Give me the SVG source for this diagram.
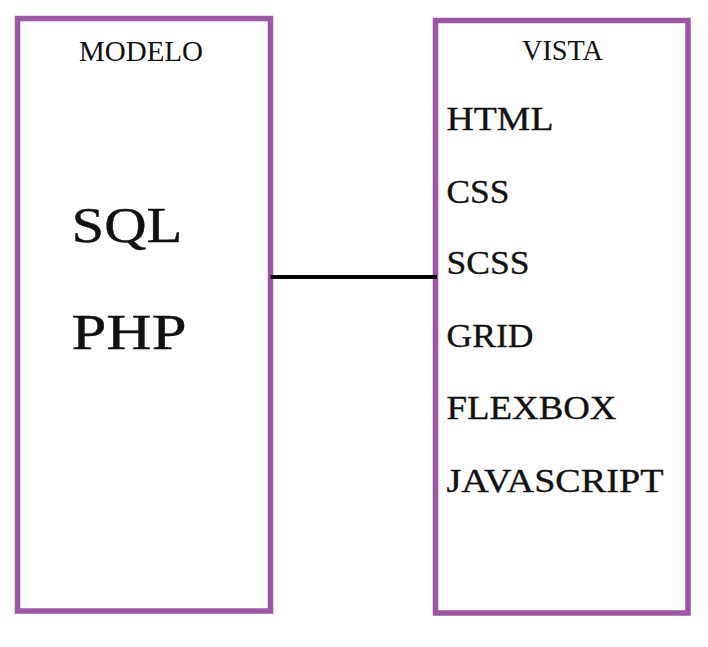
<svg xmlns="http://www.w3.org/2000/svg" width="708" height="647" viewBox="0 0 708 647">
<style>
.box{fill:#fff;stroke:#9b57a3;stroke-width:5.5}
.t{font-family:"Liberation Serif","Times New Roman",serif;fill:#111}
.h{font-size:30px}
.v{font-size:34px;stroke:#111;stroke-width:0.35}
.m{font-size:50px;stroke:#111;stroke-width:0.35}
.link{stroke:#000;stroke-width:4;fill:none}
</style>
<rect width="708" height="647" fill="#fff"/>
<g id="modelo">
<rect class="box" x="17.5" y="18.5" width="253" height="592.5"/>
<text class="t h" x="79" y="61" textLength="124" lengthAdjust="spacingAndGlyphs">MODELO</text>
<text class="t m" x="71.5" y="241.5" textLength="111" lengthAdjust="spacingAndGlyphs">SQL</text>
<text class="t m" x="71.5" y="348.5" textLength="115" lengthAdjust="spacingAndGlyphs">PHP</text>
</g>
<g id="vista">
<rect class="box" x="435.5" y="20.5" width="252.5" height="592.5"/>
<text class="t h" x="522" y="60" textLength="81" lengthAdjust="spacingAndGlyphs">VISTA</text>
<text class="t v" x="446.5" y="130" textLength="107" lengthAdjust="spacingAndGlyphs">HTML</text>
<text class="t v" x="446.5" y="202.5" textLength="63" lengthAdjust="spacingAndGlyphs">CSS</text>
<text class="t v" x="446.5" y="274" textLength="83" lengthAdjust="spacingAndGlyphs">SCSS</text>
<text class="t v" x="446.5" y="346.5" textLength="87" lengthAdjust="spacingAndGlyphs">GRID</text>
<text class="t v" x="446.5" y="419" textLength="170" lengthAdjust="spacingAndGlyphs">FLEXBOX</text>
<text class="t v" x="446.5" y="491.5" textLength="217" lengthAdjust="spacingAndGlyphs">JAVASCRIPT</text>
</g>
<g id="connectors">
<line class="link" x1="270.5" y1="277" x2="437" y2="277"/>
</g>
</svg>
